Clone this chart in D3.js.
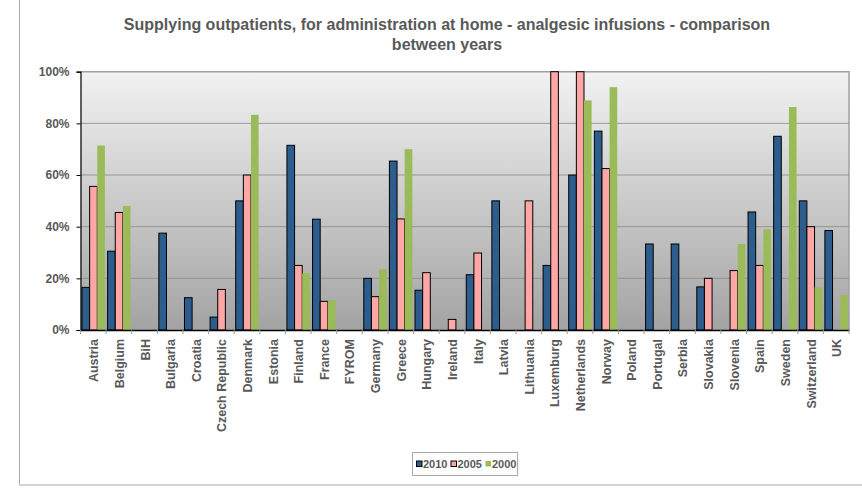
<!DOCTYPE html>
<html><head><meta charset="utf-8">
<script src="https://cdn.jsdelivr.net/npm/d3@7"></script>
<style>body{margin:0;background:#fff;} text{font-family:"Liberation Sans",Arial,sans-serif;}</style>
</head><body><svg id="c" width="862" height="491"></svg>
<script>
const categories = ["Austria","Belgium","BiH","Bulgaria","Croatia","Czech Republic","Denmark","Estonia","Finland","France","FYROM","Germany","Greece","Hungary","Ireland","Italy","Latvia","Lithuania","Luxemburg","Netherlands","Norway","Poland","Portugal","Serbia","Slovakia","Slovenia","Spain","Sweden","Switzerland","UK"];
const years = ["2010","2005","2000"];
const v2010 = [16.5,30.5,0,37.5,12.5,5,50,0,71.5,42.9,0,20,65.4,15.4,0,21.4,50,0,25,60,77,0,33.3,33.3,16.7,0,45.7,75,50,38.5];
const v2005 = [55.6,45.5,0,0,0,15.7,60,0,25,11.1,0,12.9,43,22.2,4.1,29.8,0,50,100,100,62.5,0,0,0,20,23,25,0,40,0];
const v2000 = [71.4,48,0,0,0,0,83.3,0,22,11.6,0,23.5,70,0,0,0,0,0,0,88.9,94,0,0,0,0,33.3,39,86.3,16.5,13.5];
const yTicks = [0,20,40,60,80,100];
const colors = {"2010":"#2d5d8c","2005":"#ffa6a6","2000":"#9bbb59"};
const series = {"2010":v2010,"2005":v2005,"2000":v2000};

const svg = d3.select("#c");
const L=80.5, R=849, T=71.7, B=330;
const textCol = "#595959";

svg.append("line").attr("x1",19.5).attr("x2",19.5).attr("y1",0).attr("y2",485).attr("stroke","#aaa");
svg.append("line").attr("x1",19.5).attr("x2",862).attr("y1",485).attr("y2",485).attr("stroke","#aaa");

const defs = svg.append("defs");
const g = defs.append("linearGradient").attr("id","bg").attr("x1",0).attr("y1",0).attr("x2",0).attr("y2",1);
g.append("stop").attr("offset","0%").attr("stop-color","#f2f2f2");
g.append("stop").attr("offset","100%").attr("stop-color","#a3a3a3");

const x = d3.scaleBand().domain(categories).range([L,R]).paddingInner(0).paddingOuter(0);
const xi = d3.scaleBand().domain(years).range([1.5, x.bandwidth()-1.2]);
const y = d3.scaleLinear().domain([0,100]).range([B,T]);

svg.append("rect").attr("x",L).attr("y",T).attr("width",R-L).attr("height",B-T).attr("fill","url(#bg)");
svg.append("path").attr("d",`M${L},${T}H${R}V${B}`).attr("fill","none").attr("stroke","#a0a0a0").attr("stroke-width",1.5);

svg.append("g").selectAll("line").data(yTicks.filter(d=>d>0&&d<100)).join("line")
  .attr("x1",L).attr("x2",R).attr("y1",d=>y(d)).attr("y2",d=>y(d)).attr("stroke","#8a8a8a").attr("stroke-width",0.8);

const groups = svg.append("g").selectAll("g").data(categories).join("g")
  .attr("transform",d=>`translate(${x(d)},0)`);
years.forEach(yr=>{
  groups.append("rect")
    .datum((d,i)=>series[yr][i])
    .filter(d=>d>0)
    .attr("x",xi(yr)).attr("width",xi.bandwidth())
    .attr("y",d=>y(d)).attr("height",d=>B-y(d))
    .attr("fill",colors[yr])
    .attr("stroke",yr==="2000"?"none":"#000").attr("stroke-width",1);
});

const yAxis = d3.axisLeft(y).tickValues(yTicks).tickFormat(d=>d+"%").tickSize(4).tickPadding(7);
const ya = svg.append("g").attr("transform",`translate(${L},0)`).call(yAxis);
ya.select(".domain").attr("stroke","#000").attr("stroke-width",1.2);
ya.selectAll(".tick line").attr("stroke","#000");
ya.selectAll("text").attr("font-size",12).attr("font-weight","bold").attr("fill",textCol);

const xAxis = d3.axisBottom(x).tickSize(0).tickSizeOuter(0);
const xa = svg.append("g").attr("transform",`translate(0,${B})`).call(xAxis);
xa.select(".domain").attr("stroke","#000").attr("stroke-width",1.5);
xa.selectAll(".tick text").attr("font-size",12.5).attr("font-weight","bold").attr("fill",textCol)
  .attr("transform","rotate(-90)").attr("text-anchor","end").attr("dy","0.4em").attr("x",-9).attr("y",0);
svg.append("g").selectAll("line").data(categories.concat(["_end"])).join("line")
  .attr("x1",(d,i)=>L+i*x.bandwidth()).attr("x2",(d,i)=>L+i*x.bandwidth())
  .attr("y1",B).attr("y2",B+4).attr("stroke","#999");

svg.append("text").attr("x",447).attr("y",30).attr("text-anchor","middle").attr("font-size",16).attr("font-weight","bold").attr("fill",textCol)
  .text("Supplying outpatients, for administration at home - analgesic infusions - comparison");
svg.append("text").attr("x",447).attr("y",50).attr("text-anchor","middle").attr("font-size",16).attr("font-weight","bold").attr("fill",textCol)
  .text("between years");

svg.append("rect").attr("x",412.5).attr("y",452.5).attr("width",105).attr("height",23).attr("fill","#fff").attr("stroke","#aaa");
const lg = svg.append("g").selectAll("g").data(years).join("g").attr("transform",(d,i)=>`translate(${416.5+i*34.5},464)`);
lg.append("rect").attr("x",0).attr("y",-3).attr("width",5.5).attr("height",5.5).attr("fill",d=>colors[d]).attr("stroke",d=>d==="2000"?"none":"#000");
lg.append("text").attr("x",6.5).attr("y",4).attr("font-size",11).attr("font-weight","bold").attr("fill",textCol).text(d=>d);
</script></body></html>
